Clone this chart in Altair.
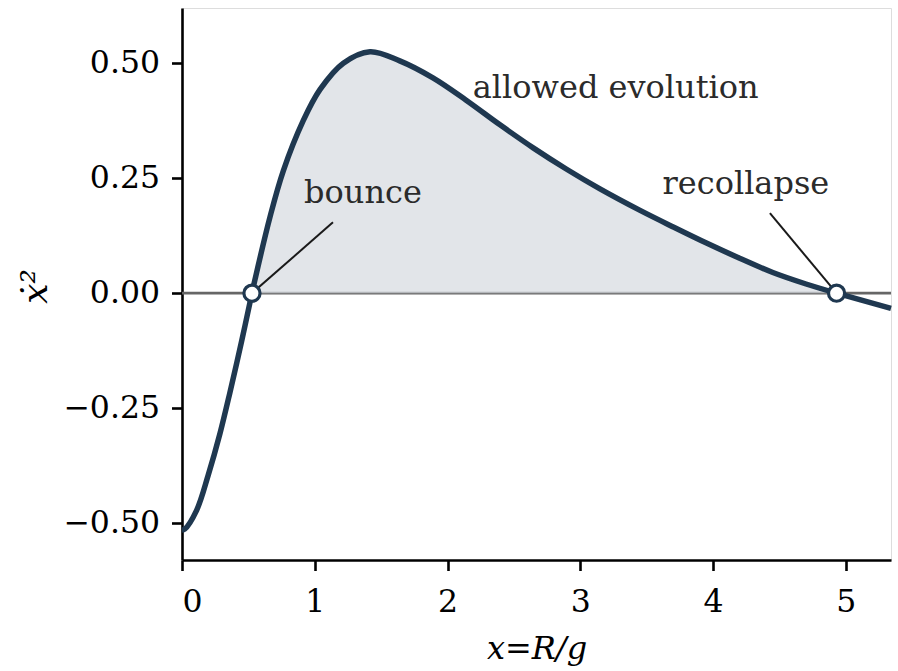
import altair as alt
import pandas as pd

# curve
curve_x = [0.0, 0.02, 0.11, 0.198, 0.286, 0.36, 0.45, 0.527, 0.55, 0.663, 0.763, 0.913,
           1.04, 1.215, 1.416, 1.64, 1.89, 2.14, 2.395, 2.645, 2.897, 3.148, 3.45,
           3.70, 3.95, 4.20, 4.45, 4.70, 4.93, 5.34]
curve_y = [-0.515, -0.513, -0.472, -0.395, -0.305, -0.217, -0.103, 0.0, 0.030, 0.166, 0.266, 0.375,
           0.443, 0.500, 0.525, 0.505, 0.468, 0.4195, 0.366, 0.316, 0.2695, 0.2268, 0.180,
           0.144, 0.109, 0.076, 0.045, 0.020, 0.0, -0.033]

root_x = [0.527, 4.93]
root_y = [0.0, 0.0]

center_notes = ["bounce", "recollapse"]
center_note_x = [1.363, 4.247]
center_note_y = [0.217, 0.237]

left_notes = ["allowed evolution"]
left_note_x = [2.19]
left_note_y = [0.446]

leader_x = [1.137, 4.428]
leader_y = [0.154, 0.174]
leader_x2 = [0.527, 4.93]
leader_y2 = [0.0, 0.0]

x_ticks = [0, 1, 2, 3, 4, 5]
y_ticks = [-0.5, -0.25, 0.0, 0.25, 0.5]

FONT = "DejaVu Serif"
NAVY = "#1f3850"

xscale = alt.Scale(domain=[0, 5.34], nice=False, zero=False)
yscale = alt.Scale(domain=[-0.58, 0.62], nice=False, zero=False)
xaxis = alt.Axis(values=x_ticks, format="d", title="x=R/g", grid=False,
                 domainColor="black", domainWidth=2.6, tickColor="black", tickWidth=2.6,
                 tickSize=10.5, labelFontSize=31.5, labelFont=FONT, labelColor="black",
                 labelPadding=16, titleFont=FONT, titleFontSize=32, titleFontStyle="italic",
                 titleFontWeight="normal", titleColor="black", titleY=88, titleBaseline="middle")
yaxis = alt.Axis(values=y_ticks, format=".2f", title="ẋ²", grid=False,
                 domainColor="black", domainWidth=2.6, tickColor="black", tickWidth=2.6,
                 tickSize=10.5, labelFontSize=31.5, labelFont=FONT, labelColor="black",
                 labelPadding=12, titleFont=FONT, titleFontSize=36, titleFontStyle="italic",
                 titleFontWeight="normal", titleColor="black", titleX=-147, titleY=278,
                 titleAngle=-90, titleAlign="center", titleBaseline="middle")


def X(f):
    return alt.X(f, type="quantitative", scale=xscale, axis=xaxis)


def Y(f):
    return alt.Y(f, type="quantitative", scale=yscale, axis=yaxis)


curve = pd.DataFrame({"x": curve_x, "y": curve_y})
pos = curve[(curve["x"] >= root_x[0]) & (curve["x"] <= root_x[1])]
roots = pd.DataFrame({"x": root_x, "y": root_y})
cnotes = pd.DataFrame({"x": center_note_x, "y": center_note_y, "t": center_notes})
lnotes = pd.DataFrame({"x": left_note_x, "y": left_note_y, "t": left_notes})
leaders = pd.DataFrame({"x": leader_x, "y": leader_y, "x2": leader_x2, "y2": leader_y2})
zero = pd.DataFrame({"y": [0.0]})

zero_line = alt.Chart(zero).mark_rule(color="#666666", strokeWidth=2.8).encode(y=Y("y"))

area = alt.Chart(pos).mark_area(color="#d6dadf", opacity=0.7, interpolate="catmull-rom").encode(
    x=X("x"), y=Y("y"), y2=alt.datum(0))

line = alt.Chart(curve).mark_line(color=NAVY, strokeWidth=5.5, interpolate="catmull-rom").encode(
    x=X("x"), y=Y("y"))

lead = alt.Chart(leaders).mark_rule(color="#1a1a1a", strokeWidth=2).encode(
    x=X("x"), y=Y("y"), x2="x2", y2="y2")

pts = alt.Chart(roots).mark_point(filled=True, fill="white", stroke=NAVY, strokeWidth=3.2,
                                  size=260, opacity=1).encode(x=X("x"), y=Y("y"))

ctext = alt.Chart(cnotes).mark_text(font=FONT, fontSize=32, color="#2b2b2b", align="center",
                                    baseline="middle").encode(x=X("x"), y=Y("y"), text="t")
ltext = alt.Chart(lnotes).mark_text(font=FONT, fontSize=32, color="#2b2b2b", align="left",
                                    baseline="middle").encode(x=X("x"), y=Y("y"), text="t")

chart = alt.layer(zero_line, area, line, lead, pts, ctext, ltext).properties(
    width=709, height=552,
    autosize=alt.AutoSizeParams(type="none"),
    padding={"left": 182, "top": 8, "right": 7, "bottom": 111},
).configure_view(stroke=None).configure(background="white")

chart.save("out.html", embed_options={"renderer": "svg", "actions": False})
